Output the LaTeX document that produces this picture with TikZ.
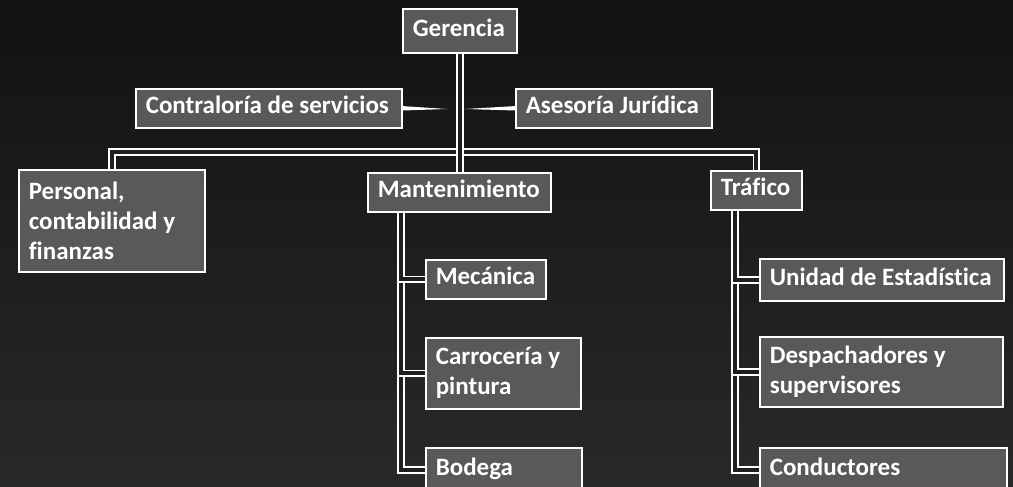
\documentclass[tikz,border=0pt]{standalone}
\usepackage{fontspec}
\setmainfont[Ligatures = NoCommon]{Carlito}
\usepackage{tikz}

\begin{document}
\begin{tikzpicture}[
            x = 1pt, y = -1pt, % pixel units, y downwards
            font = \fontsize{25}{30}\selectfont\bfseries,
            box/.style = {draw = white, line width = 1.6pt, fill = black!65, text = white,
                anchor = north west, align = flush left, inner xsep = 10pt, inner ysep = 8pt},
            one/.style = {box, text height = 17pt, text depth = 6pt}, % single line box
            link/.style = {draw = white, line width = 1.8pt, double = black!88,
                double distance = 3.8pt} % double line connector
        ]

	\shade[top color = black!93, bottom color = black!84] (0,0) rectangle (1013,487);
	\useasboundingbox (0,0) rectangle (1013,487);

	\node[one, text width = 94pt, minimum height = 44pt] (G) at (402,8) {Gerencia};
	\node[one, text width = 246pt] (CS) at (135,88) {Contraloría de servicios};
	\node[one, text width = 176pt] (AJ) at (515,88) {Asesoría Jurídica};
	\node[box, text width = 166pt, minimum height = 102pt] (P) at (18,169) {Personal,\\contabilidad y\\finanzas};
	\node[one, text width = 163pt] (M) at (367,172) {Mantenimiento};
	\node[one, text width = 71pt] (T) at (710,170) {Tráfico};
	\node[one, text width = 100pt] (M1) at (425,259) {Mecánica};
	\node[box, text width = 135pt, minimum height = 71pt] (M2) at (425,337) {Carrocería y\\pintura};
	\node[one, text width = 136pt, minimum height = 44pt] (M3) at (425,447) {Bodega};
	\node[one, text width = 224pt, minimum height = 42pt] (T1) at (759,258) {Unidad de Estadística};
	\node[box, text width = 223pt, minimum height = 70pt] (T2) at (759,336) {Despachadores y\\supervisores};
	\node[one, text width = 227pt, minimum height = 44pt] (T3) at (759,447) {Conductores};

	\coordinate (bus) at (0,152);
	\coordinate (Mx) at (401,0);
	\coordinate (Tx) at (735,0);
	\coordinate (CSend) at (447,109);
	\coordinate (AJend) at (465,109);

	\draw[link] (G.south) |- (P.north |- bus) -- (P.north);
	\draw[link] (G.south) |- (T.north |- bus) -- (T.north);
	\draw[link] (G.south) -- (G.south |- M.north);

	\draw[link] (M.south -| Mx) |- (M3.west);
	\draw[link] (M.south -| Mx) |- (M2.west);
	\draw[link] (M.south -| Mx) |- (M1.west);
	\draw[link] (T.south -| Tx) |- (T3.west);
	\draw[link] (T.south -| Tx) |- (T2.west);
	\draw[link] (T.south -| Tx) |- (T1.west);

	\fill[white] ([yshift = 2.2pt]CS.east) -- (CSend) -- ([yshift = -2.2pt]CS.east) -- cycle;
	\fill[white] ([yshift = 2.2pt]AJ.west) -- (AJend) -- ([yshift = -2.2pt]AJ.west) -- cycle;

\end{tikzpicture}
\end{document}
